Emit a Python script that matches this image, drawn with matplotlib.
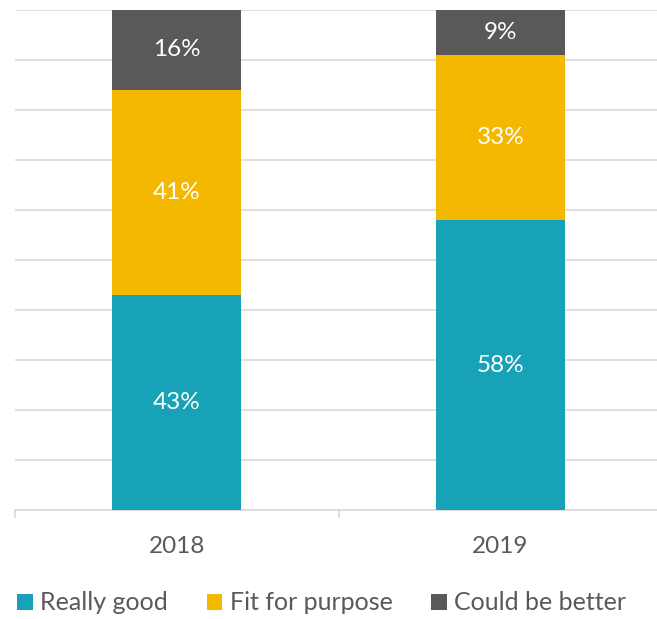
import matplotlib.pyplot as plt
from matplotlib.patches import Patch
import numpy as np

years = ['2018', '2019']
really_good = [43, 58]
fit_for_purpose = [41, 33]
could_be_better = [16, 9]

series = [('Really good', really_good, '#17a2b8'),
          ('Fit for purpose', fit_for_purpose, '#f5b800'),
          ('Could be better', could_be_better, '#595959')]

plt.rcParams['font.family'] = ['Lato', 'DejaVu Sans']

fig = plt.figure(figsize=(6.57, 6.19), dpi=100)
ax = fig.add_axes([0.0228, 0.176, 0.985, 0.808])

x = np.arange(len(years))
bottom = np.zeros(len(years))
for name, vals, col in series:
    bars = ax.bar(x, vals, 0.4, bottom=bottom, color=col, zorder=3)
    for b, v in zip(bars, vals):
        ax.text(b.get_x() + b.get_width() / 2, b.get_y() + b.get_height() / 2,
                '%d%%' % v, ha='center', va='center', color='white', fontsize=17.5, zorder=4)
    bottom += np.array(vals)

ax.set_xlim(-0.5, 1.5)
ax.set_ylim(0, 100)
ax.set_yticks(np.arange(0, 101, 10))
ax.yaxis.grid(True, color='#d9d9d9', linewidth=1.2, zorder=0)
ax.tick_params(axis='y', left=False, labelleft=False)
for s in ['top', 'right', 'left']:
    ax.spines[s].set_visible(False)
ax.spines['bottom'].set_color('#d9d9d9')
ax.spines['bottom'].set_linewidth(1.2)

ax.set_xticks(x)
ax.set_xticklabels(years, fontsize=17.5, color='#595959')
ax.tick_params(axis='x', which='major', length=0, pad=19)
ax.set_xticks([-0.5, 0.5, 1.5], minor=True)
ax.tick_params(axis='x', which='minor', length=6, color='#d9d9d9', width=1.2)

handles = [Patch(facecolor=c, label=n) for n, v, c in series]
fig.legend(handles=handles, loc='center', bbox_to_anchor=(0.49, 0.026), ncol=3,
           frameon=False, fontsize=18, handlelength=0.62, handleheight=0.62,
           handletextpad=0.3, columnspacing=1.55, labelcolor='#595959')

fig.savefig('out.png', dpi=100)
